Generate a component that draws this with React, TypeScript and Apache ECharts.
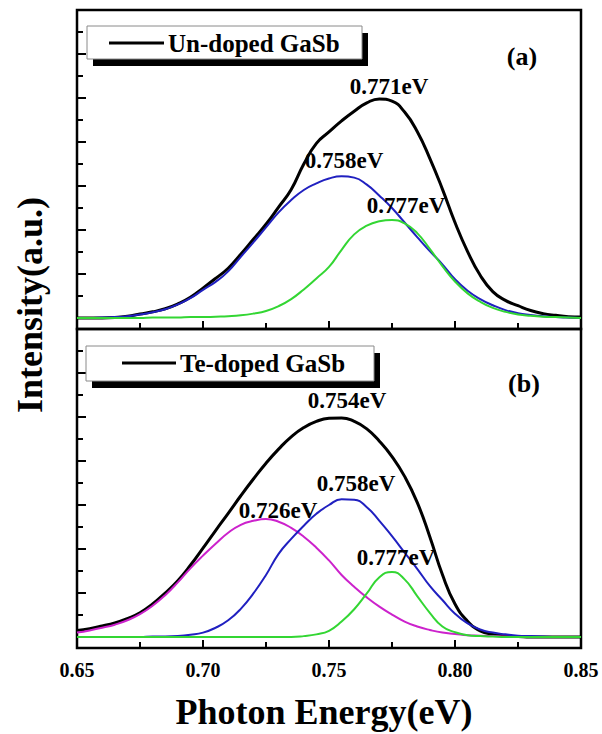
import React, { useEffect, useRef } from "react";
import * as echarts from "echarts";

// Photon energy sample points (eV)
const energy = [
  0.65, 0.655, 0.66, 0.665, 0.67, 0.675, 0.68, 0.685, 0.69, 0.695,
  0.7, 0.705, 0.71, 0.715, 0.72, 0.725, 0.73, 0.735, 0.74, 0.745,
  0.75, 0.755, 0.76, 0.765, 0.77, 0.775, 0.78, 0.785, 0.79, 0.795,
  0.8, 0.805, 0.81, 0.815, 0.82, 0.825, 0.83, 0.835, 0.84, 0.845, 0.85,
];

// (a) Un-doped GaSb
const undopedMeasured = [
  0.0, 0.0, 0.0, 0.01, 0.04, 0.09, 0.14, 0.21, 0.32, 0.47,
  0.68, 0.9, 1.13, 1.45, 1.79, 2.13, 2.52, 2.92, 3.5, 3.97,
  4.23, 4.48, 4.7, 4.89, 4.98, 4.93, 4.68, 4.24, 3.63, 2.93,
  2.17, 1.51, 0.97, 0.6, 0.4, 0.28, 0.17, 0.1, 0.06, 0.03, 0.02,
];
const undopedFit758 = [
  0.0, 0.0, 0.01, 0.02, 0.04, 0.08, 0.13, 0.2, 0.31, 0.45,
  0.64, 0.82, 1.06, 1.39, 1.72, 2.06, 2.4, 2.68, 2.91, 3.06,
  3.17, 3.22, 3.19, 3.03, 2.78, 2.5, 2.17, 1.84, 1.52, 1.22,
  0.88, 0.62, 0.43, 0.29, 0.18, 0.11, 0.07, 0.04, 0.02, 0.01, 0.0,
];
const undopedFit777 = [
  0.0, 0.0, 0.0, 0.0, 0.0, 0.0, 0.01, 0.01, 0.01, 0.02,
  0.02, 0.03, 0.04, 0.06, 0.1, 0.16, 0.27, 0.43, 0.65, 0.9,
  1.16, 1.55, 1.9, 2.1, 2.2, 2.23, 2.15, 1.93, 1.57, 1.18,
  0.83, 0.56, 0.37, 0.23, 0.14, 0.08, 0.05, 0.03, 0.02, 0.01, 0.0,
];

// (b) Te-doped GaSb
const tedopedMeasured = [
  0.15, 0.19, 0.25, 0.32, 0.42, 0.55, 0.75, 1.0, 1.28, 1.63,
  2.02, 2.42, 2.81, 3.21, 3.59, 3.95, 4.27, 4.55, 4.76, 4.9,
  4.97, 4.98, 4.9, 4.73, 4.45, 4.1, 3.65, 3.06, 2.28, 1.42,
  0.75, 0.36, 0.14, 0.06, 0.02, 0.01, 0.0, 0.0, 0.0, 0.0, 0.0,
];
const tedopedFit726 = [
  0.1, 0.15, 0.21, 0.28, 0.38, 0.52, 0.71, 0.95, 1.24, 1.56,
  1.85, 2.12, 2.37, 2.55, 2.64, 2.68, 2.62, 2.48, 2.28, 2.03,
  1.74, 1.41, 1.14, 0.9, 0.69, 0.51, 0.35, 0.24, 0.16, 0.1,
  0.07, 0.04, 0.03, 0.02, 0.01, 0.01, 0.0, 0.0, 0.0, 0.0, 0.0,
];
const tedopedFit758 = [
  0.0, 0.0, 0.0, 0.0, 0.0, 0.0, 0.01, 0.01, 0.02, 0.05,
  0.1, 0.21, 0.38, 0.64, 0.99, 1.41, 1.89, 2.23, 2.53, 2.8,
  3.0, 3.13, 3.12, 2.95, 2.64, 2.29, 1.92, 1.55, 1.16, 0.84,
  0.53, 0.31, 0.17, 0.1, 0.06, 0.03, 0.02, 0.01, 0.0, 0.0, 0.0,
];
const tedopedFit777 = [
  0.0, 0.0, 0.0, 0.0, 0.0, 0.0, 0.0, 0.0, 0.0, 0.0,
  0.0, 0.0, 0.0, 0.0, 0.0, 0.0, 0.0, 0.0, 0.02, 0.06,
  0.14, 0.35, 0.63, 0.99, 1.36, 1.48, 1.31, 0.93, 0.55, 0.24,
  0.11, 0.04, 0.02, 0.01, 0.0, 0.0, 0.0, 0.0, 0.0, 0.0, 0.0,
];

const xTicks = [0.65, 0.7, 0.75, 0.8, 0.85];
const yMajor = [0, 1, 2, 3, 4, 5, 6];
const yMinor = [0.5, 1.5, 2.5, 3.5, 4.5, 5.5, 6.5];

const FONT = "Liberation Serif";
const BLACK = "#000000";
const BLUE = "#2020c0";
const GREEN = "#33d633";
const MAGENTA = "#cc22cc";

const GRID_LEFT = 77;
const GRID_WIDTH = 504;

function pairs(vals: number[]) {
  return energy.map((x, i) => [x, vals[i]]);
}

function lineSeries(name: string, vals: number[], color: string, width: number, idx: number) {
  return {
    name,
    type: "line",
    xAxisIndex: idx,
    yAxisIndex: idx * 2,
    data: pairs(vals),
    smooth: true,
    showSymbol: false,
    symbol: "none",
    lineStyle: { color, width },
    itemStyle: { color },
    z: 3,
  };
}

function txt(text: string, x: number, y: number, size: number, extra: any = {}) {
  return {
    type: "text",
    x,
    y,
    z: 100,
    style: {
      text,
      fill: "#000",
      fontFamily: FONT,
      fontWeight: "bold",
      fontSize: size,
      textAlign: "center",
      textVerticalAlign: "middle",
      ...extra,
    },
  };
}

function legendBox(label: string, bx: number, by: number, bw: number, bh: number, lx1: number, lx2: number, ly: number, tx: number) {
  return [
    { type: "rect", z: 99, shape: { x: bx + 6, y: by + 7, width: bw, height: bh }, style: { fill: "#000" } },
    { type: "rect", z: 100, shape: { x: bx, y: by, width: bw, height: bh }, style: { fill: "#fff", stroke: "#8a8a8a", lineWidth: 1 } },
    { type: "line", z: 101, shape: { x1: lx1, y1: ly, x2: lx2, y2: ly }, style: { stroke: "#000", lineWidth: 3 } },
    {
      type: "text",
      x: tx,
      y: ly,
      z: 101,
      style: { text: label, fill: "#000", fontFamily: FONT, fontWeight: "bold", fontSize: 25, textAlign: "left", textVerticalAlign: "middle" },
    },
  ];
}

export default function App() {
  const ref = useRef<HTMLDivElement>(null);

  useEffect(() => {
    if (!ref.current) return;
    const chart = echarts.init(ref.current, null, { renderer: "svg" });

    const xAxisBase = (gridIndex: number, showLabel: boolean) => ({
      type: "value",
      gridIndex,
      position: "bottom",
      min: 0.65,
      max: 0.85,
      interval: 0.05,
      axisLine: { show: false, onZero: false },
      axisTick: { show: true, inside: true, length: 8, lineStyle: { color: "#000", width: 2 } },
      minorTick: { show: true, splitNumber: 2, length: 6, lineStyle: { color: "#000", width: 2 } },
      splitLine: { show: false },
      minorSplitLine: { show: false },
      axisLabel: {
        show: showLabel,
        margin: 12,
        color: "#000",
        fontFamily: FONT,
        fontWeight: "bold",
        fontSize: 20,
        customValues: xTicks,
        formatter: (v: number) => v.toFixed(2),
      },
    });

    // major ticks: left axis pointing inward
    const yMajorAxis = (gridIndex: number) => ({
      type: "value",
      gridIndex,
      position: "left",
      min: -0.25,
      max: 7,
      axisLine: { show: false, onZero: false },
      axisLabel: { show: false },
      splitLine: { show: false },
      axisTick: { show: true, inside: true, length: 9, customValues: yMajor, lineStyle: { color: "#000", width: 2 } },
    });
    // minor ticks: a right-side axis shifted back onto the left frame, ticks pointing into the plot
    const yMinorAxis = (gridIndex: number) => ({
      type: "value",
      gridIndex,
      position: "right",
      offset: -GRID_WIDTH,
      min: -0.25,
      max: 7,
      axisLine: { show: false, onZero: false },
      axisLabel: { show: false },
      splitLine: { show: false },
      axisTick: { show: true, inside: false, length: 6, customValues: yMinor, lineStyle: { color: "#000", width: 2 } },
    });

    chart.setOption({
      animation: false,
      backgroundColor: "#fff",
      grid: [
        { left: GRID_LEFT, top: 10, width: GRID_WIDTH, height: 319, show: true, borderColor: "#000", borderWidth: 2.5, backgroundColor: "transparent" },
        { left: GRID_LEFT, top: 329, width: GRID_WIDTH, height: 319, show: true, borderColor: "#000", borderWidth: 2.5, backgroundColor: "transparent" },
      ],
      xAxis: [xAxisBase(0, false), xAxisBase(1, true)],
      yAxis: [yMajorAxis(0), yMinorAxis(0), yMajorAxis(1), yMinorAxis(1)],
      series: [
        lineSeries("Un-doped GaSb", undopedMeasured, BLACK, 3, 0),
        lineSeries("0.758eV (a)", undopedFit758, BLUE, 2, 0),
        lineSeries("0.777eV (a)", undopedFit777, GREEN, 2, 0),
        lineSeries("Te-doped GaSb", tedopedMeasured, BLACK, 3, 1),
        lineSeries("0.726eV (b)", tedopedFit726, MAGENTA, 2, 1),
        lineSeries("0.758eV (b)", tedopedFit758, BLUE, 2, 1),
        lineSeries("0.777eV (b)", tedopedFit777, GREEN, 2, 1),
      ],
      graphic: [
        ...legendBox("Un-doped GaSb", 87, 26, 275, 33, 109, 164, 43, 168),
        ...legendBox("Te-doped GaSb", 86, 346, 288, 35, 122, 176, 363, 180),
        txt("(a)", 522, 56, 26),
        txt("(b)", 524, 383, 26),
        txt("0.771eV", 389, 86, 23),
        txt("0.758eV", 344, 160, 23),
        txt("0.777eV", 406, 205, 23),
        txt("0.754eV", 347, 400, 23),
        txt("0.758eV", 356, 483, 23),
        txt("0.726eV", 278, 510, 23),
        txt("0.777eV", 396, 557, 23),
        txt("Photon Energy(eV)", 324, 712, 36),
        { ...txt("Intensity(a.u.)", 30, 305, 36), rotation: Math.PI / 2 },
      ],
    });

    return () => chart.dispose();
  }, []);

  return (
    <div
      ref={ref}
      style={{ position: "absolute", left: 0, top: 0, width: 602, height: 734, background: "#fff" }}
    />
  );
}
